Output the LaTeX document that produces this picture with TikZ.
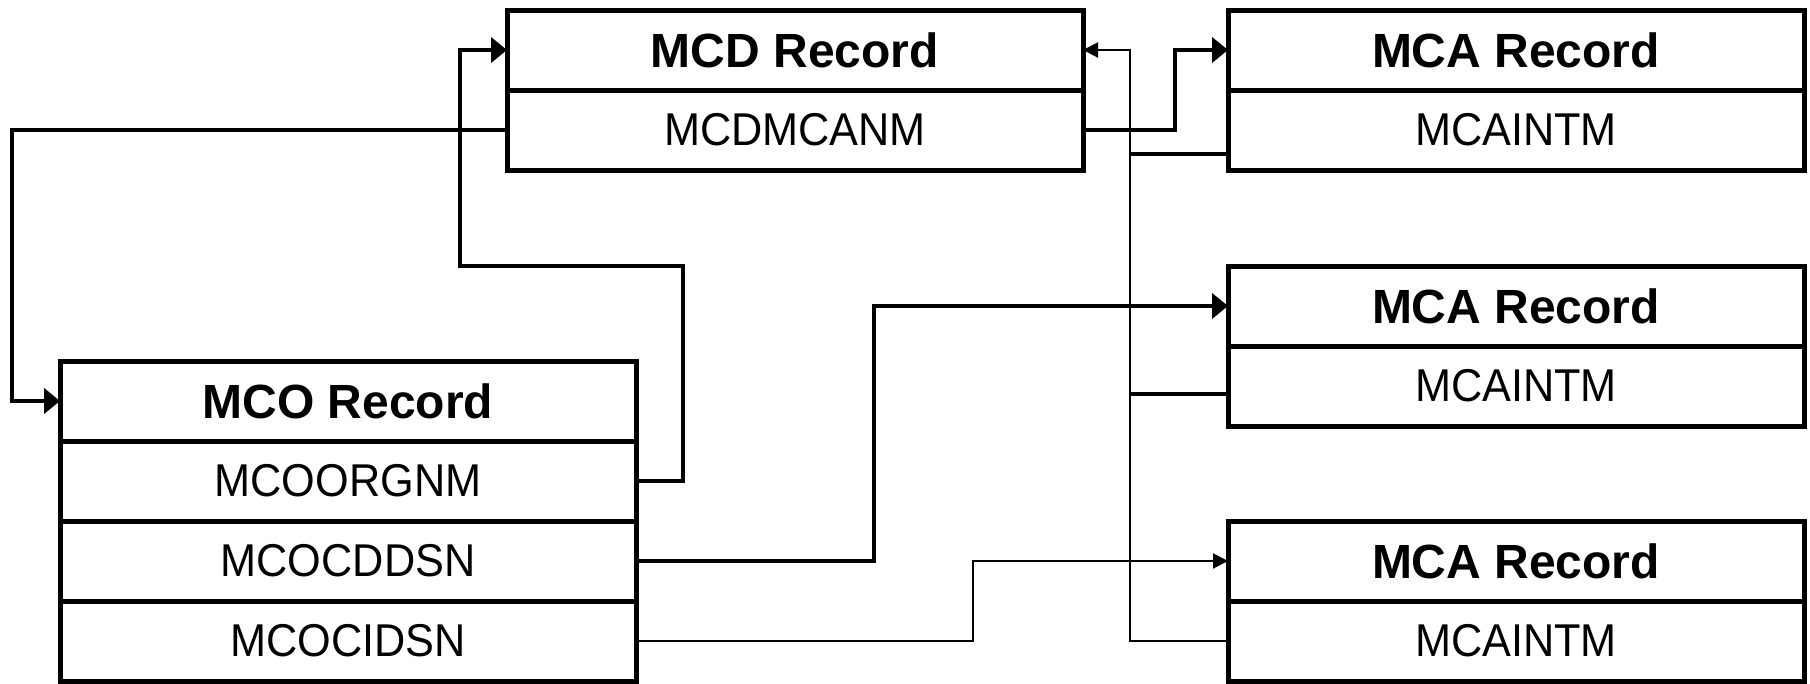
\documentclass[tikz,border=0pt]{standalone}
\usepackage{fontspec}
\setmainfont{Liberation Sans}
\newfontfamily\rowfont{Liberation Sans}[FakeStretch=0.94]
\usetikzlibrary{arrows.meta}
\begin{document}
\begin{tikzpicture}[x=1pt,y=-1pt,
  cell/.style={draw, line width=5pt, minimum width=576pt, minimum height=80pt,
    inner sep=0pt, outer sep=0pt, anchor=north west},
  hdr/.style={cell, font=\fontsize{48}{52}\selectfont\bfseries},
  fld/.style={cell, font=\rowfont\fontsize{46}{50}\selectfont},
  thk/.style={line width=4pt},
  thn/.style={line width=2pt},
  bigtip/.style={-{Triangle[length=16pt,width=25pt]}},
  smalltip/.style={-{Triangle[length=15pt,width=15pt]}}]
\useasboundingbox (0,0) rectangle (1810,683);
% MCD record
\node[hdr] (mcdh) at (507,10) {MCD Record};
\node[fld] (mcdr) at (507,90) {MCDMCANM};
% MCA records
\node[hdr] (a1h) at (1228,10) {MCA Record};
\node[fld] (a1r) at (1228,90) {MCAINTM};
\node[hdr] (a2h) at (1228,266) {MCA Record};
\node[fld] (a2r) at (1228,346) {MCAINTM};
\node[hdr] (a3h) at (1228,521) {MCA Record};
\node[fld] (a3r) at (1228,601) {MCAINTM};
% MCO record
\node[hdr] (oh) at (60,361) {MCO Record};
\node[fld] (o1) at (60,441) {MCOORGNM};
\node[fld] (o2) at (60,521) {MCOCDDSN};
\node[fld] (o3) at (60,601) {MCOCIDSN};
% helper coordinates
\coordinate (c1) at (12,130);
\coordinate (c2a) at (683,266);
\coordinate (c2b) at (460,266);
\coordinate (c3) at (1175,50);
\coordinate (c4) at (874,306);
\coordinate (c5) at (973,561);
\coordinate (bus) at (1130,50);
\coordinate (b1) at ([yshift=-24pt]a1r.west);
\coordinate (b2) at ([yshift=-8pt]a2r.west);
% connectors
\draw[thk,bigtip] (mcdr.west) -- (c1) |- (oh.west);
\draw[thk,bigtip] (o1.east) -| (c2a) -- (c2b) |- (mcdh.west);
\draw[thk,bigtip] (mcdr.east) -| (c3) -- (a1h.west);
\draw[thk,bigtip] (o2.east) -| (c4) -- (a2h.west);
\draw[thn,smalltip] (o3.east) -| (c5) -- (a3h.west);
\draw[thn,smalltip] (a3r.west) -| (bus) -- (mcdh.east);
\draw[thk] (b1) -- (bus |- b1);
\draw[thk] (b2) -- (bus |- b2);
\end{tikzpicture}
\end{document}
